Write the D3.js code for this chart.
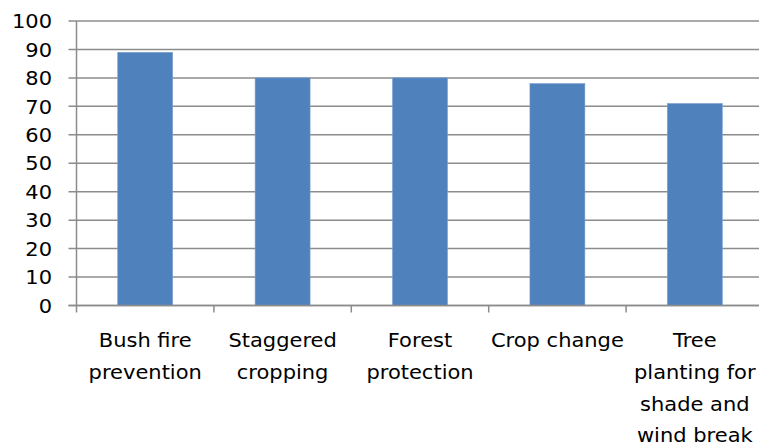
<!DOCTYPE html>
<html><head><meta charset="utf-8">
<script src="https://cdn.jsdelivr.net/npm/d3@7"></script>
<style>html,body{margin:0;padding:0;background:#fff;overflow:hidden}</style>
</head><body>
<svg id="c" width="759" height="448"></svg>
<script>
const categories = [
  ["Bush fire","prevention"],
  ["Staggered","cropping"],
  ["Forest","protection"],
  ["Crop change"],
  ["Tree","planting for","shade and","wind break"]
];
const values = [89, 80, 80, 78, 71];
const yTicks = [0,10,20,30,40,50,60,70,80,90,100];

(function () {
const svg = d3.select("#c");
const mLeft = 76.5, mTop = 21, mBottom = 305.5, step = 137.4;
const mRight = mLeft + step * categories.length;
const font = "DejaVu Sans, sans-serif";
const sx = 1.05;

const x = d3.scaleBand().domain(d3.range(categories.length)).range([mLeft, mRight])
  .paddingInner(0.6).paddingOuter(0.3);
const y = d3.scaleLinear().domain([0, 100]).range([mBottom, mTop]);

// gridlines
svg.append("g").selectAll("line").data(yTicks).join("line")
  .attr("x1", mLeft - 8).attr("x2", mRight)
  .attr("y1", d => y(d)).attr("y2", d => y(d))
  .attr("stroke", "#8c8c8c").attr("stroke-width", 1.5);

// y labels
svg.append("g").selectAll("text").data(yTicks).join("text")
  .attr("transform", d => `translate(52,${y(d)}) scale(${sx},1)`)
  .attr("dy", "0.36em")
  .attr("text-anchor", "end").attr("font-family", font).attr("font-size", 20)
  .attr("fill", "#000").text(d => d);

// bars
svg.append("g").selectAll("rect").data(values).join("rect")
  .attr("x", (d, i) => x(i)).attr("width", x.bandwidth())
  .attr("y", d => y(d)).attr("height", d => y(0) - y(d))
  .attr("fill", "#4F81BD").attr("stroke", "#7a9fd0").attr("stroke-width", 0.6);

// y axis line
svg.append("line").attr("x1", mLeft).attr("x2", mLeft).attr("y1", mTop).attr("y2", mBottom)
  .attr("stroke", "#8c8c8c").attr("stroke-width", 1.5);
// x axis line
svg.append("line").attr("x1", mLeft - 8).attr("x2", mRight).attr("y1", mBottom).attr("y2", mBottom)
  .attr("stroke", "#8c8c8c").attr("stroke-width", 1.5);
// x ticks
svg.append("g").selectAll("line").data(d3.range(categories.length + 1)).join("line")
  .attr("x1", i => mLeft + i * step).attr("x2", i => mLeft + i * step)
  .attr("y1", mBottom).attr("y2", mBottom + 7)
  .attr("stroke", "#8c8c8c").attr("stroke-width", 1.5);

// x labels
const lab = svg.append("g").selectAll("text").data(categories).join("text")
  .attr("transform", (d, i) => `translate(${x(i) + x.bandwidth() / 2},0) scale(${sx},1)`)
  .attr("text-anchor", "middle").attr("font-family", font).attr("font-size", 20).attr("fill", "#000");
lab.each(function(lines) {
  d3.select(this).selectAll("tspan").data(lines).join("tspan")
    .attr("x", 0).attr("y", (d, j) => 347 + j * 31.8).text(d => d);
});
})();
</script>
</body></html>
